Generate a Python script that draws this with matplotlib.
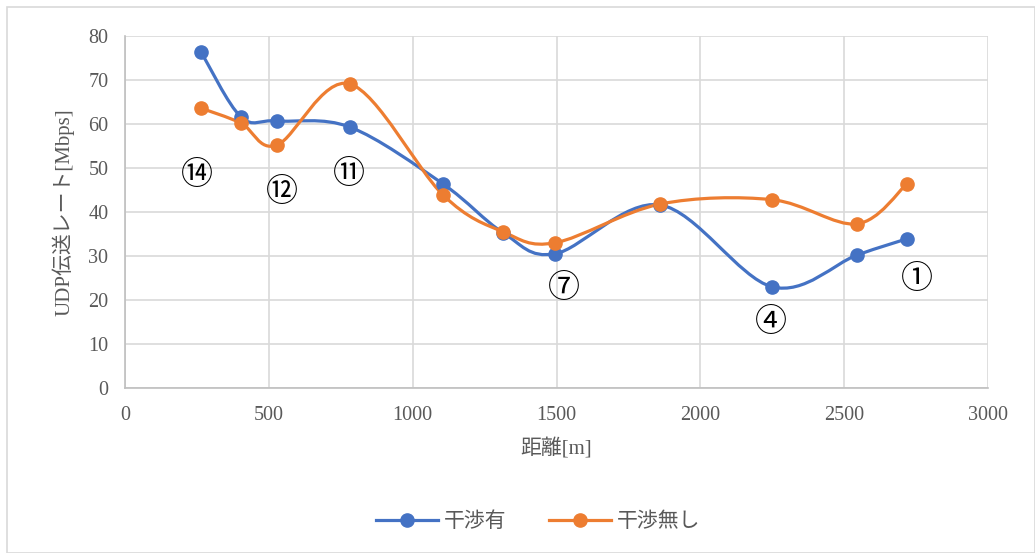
import matplotlib.pyplot as plt
from matplotlib.path import Path
from matplotlib.patches import PathPatch, Rectangle
from matplotlib.lines import Line2D

# distance [m]
dist = [264, 403, 528, 782, 1105, 1314, 1495, 1860, 2249, 2544, 2718]
# UDP rate [Mbps]
with_intf = [76.4, 61.6, 60.7, 59.3, 46.4, 35.3, 30.5, 41.6, 23.0, 30.2, 33.9]
no_intf = [63.6, 60.2, 55.2, 69.1, 43.9, 35.5, 33.0, 41.8, 42.8, 37.3, 46.4]
series_names = ['干渉有', '干渉無し']

# point labels (circled numbers)
label_text = ['⑭', '⑫', '⑪', '⑦', '④', '①']
label_x = [250, 546, 779, 1526, 2245, 2753]
label_y = [48.4, 44.5, 48.6, 22.7, 15.0, 24.8]

serif = ['Liberation Serif', 'Noto Sans CJK JP']
plt.rcParams['font.family'] = serif

blue = '#4472C4'
orange = '#ED7D31'
gray = '#595959'


def smooth_path(xs, ys):
    # Excel-like smoothed line: cubic bezier (Catmull-Rom style control points)
    pts = list(zip(xs, ys))
    n = len(pts)
    verts = [pts[0]]
    codes = [Path.MOVETO]
    for i in range(n - 1):
        p0 = pts[i - 1] if i > 0 else pts[i]
        p1 = pts[i]
        p2 = pts[i + 1]
        p3 = pts[i + 2] if i + 2 < n else pts[i + 1]
        c1 = (p1[0] + (p2[0] - p0[0]) / 6, p1[1] + (p2[1] - p0[1]) / 6)
        c2 = (p2[0] - (p3[0] - p1[0]) / 6, p2[1] - (p3[1] - p1[1]) / 6)
        verts += [c1, c2, p2]
        codes += [Path.CURVE4] * 3
    return Path(verts, codes)


fig = plt.figure(figsize=(10.35, 5.53), dpi=100)
fig.patches.append(Rectangle((0.007, 0.0), 0.993, 0.987, transform=fig.transFigure,
                             fill=False, edgecolor='#D9D9D9', linewidth=1.2))
ax = fig.add_axes([0.1208, 0.2984, 0.8338, 0.6365])

for ys, col in [(with_intf, blue), (no_intf, orange)]:
    ax.add_patch(PathPatch(smooth_path(dist, ys), facecolor='none', edgecolor=col,
                           linewidth=2.3, zorder=3, capstyle='round'))
    ax.plot(dist, ys, 'o', color=col, markersize=9.5, zorder=4)

for t, x, y in zip(label_text, label_x, label_y):
    ax.text(x, y, t, fontsize=23, ha='center', va='center', color='black',
            family=['Noto Sans CJK JP', 'DejaVu Sans'])

ax.set_xlim(0, 3000)
ax.set_ylim(0, 80)
ax.set_xticks(range(0, 3001, 500))
ax.set_yticks(range(0, 81, 10))
ax.grid(True, color='#D9D9D9', linewidth=1.2)
ax.set_axisbelow(True)
for s in ['top', 'right']:
    ax.spines[s].set_visible(False)
for s in ['left', 'bottom']:
    ax.spines[s].set_color('#BFBFBF')
    ax.spines[s].set_linewidth(1.2)
ax.tick_params(length=0, labelsize=14.5, colors=gray)
ax.tick_params(axis='x', pad=13)
ax.tick_params(axis='y', pad=12)

ax.set_xlabel('距離[m]', fontsize=15, color=gray, labelpad=10)
ax.set_ylabel('UDP伝送レート[Mbps]', fontsize=15, color=gray, labelpad=10)

handles = [Line2D([], [], color=blue, lw=2.3, marker='o', markersize=9.5),
           Line2D([], [], color=orange, lw=2.3, marker='o', markersize=9.5)]
leg = fig.legend(handles, series_names, loc='center', bbox_to_anchor=(0.52, 0.055),
                 ncol=2, frameon=False, fontsize=15, handlelength=3.0,
                 columnspacing=2.0, handletextpad=0.3)
for t in leg.get_texts():
    t.set_color(gray)

fig.savefig('out.png', dpi=100)
